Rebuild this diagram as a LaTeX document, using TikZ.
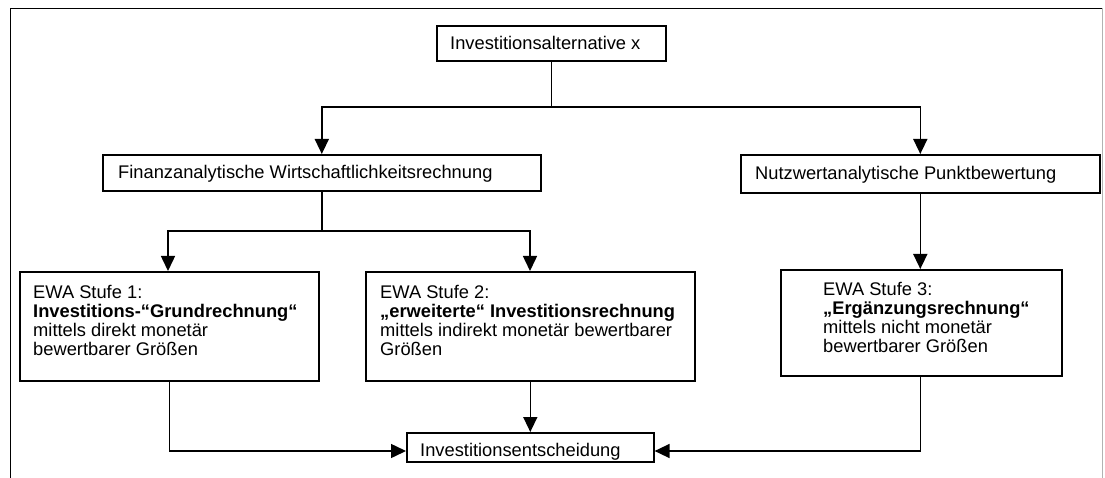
\documentclass[tikz,border=0pt]{standalone}
\usepackage{fontspec}
\setmainfont{Liberation Sans}
\usetikzlibrary{arrows.meta}
\begin{document}
\begin{tikzpicture}[x=1pt,y=-1pt,
  box/.style={draw=black, line width=1.6pt, inner sep=0pt, anchor=north west},
  txt/.style={inner sep=0pt, anchor=base west, align=left,
    font=\fontsize{18.3pt}{19pt}\selectfont},
  link/.style={line width=1.5pt},
  flow/.style={link, -{Triangle[width=14pt,length=15pt]}}]
\useasboundingbox (0,0) rectangle (1105,478);

% outer frame
\draw[line width=1.4pt] (10.5,478) -- (10.5,8.5) -- (1102,8.5);
\draw[line width=1pt, gray!60] (1102,8.5) -- (1102,478);

% boxes
\node[box, minimum width=229pt, minimum height=35pt] (alt) at (436,25) {};
\node[box, minimum width=438pt, minimum height=36pt] (fin) at (102,154) {};
\node[box, minimum width=359pt, minimum height=38pt] (nutz) at (740,154) {};
\node[box, minimum width=299pt, minimum height=109pt] (s1) at (19,271) {};
\node[box, minimum width=329pt, minimum height=109pt] (s2) at (365,271) {};
\node[box, minimum width=281pt, minimum height=106pt] (s3) at (780,269) {};
\node[box, minimum width=247pt, minimum height=29pt] (ent) at (406,432) {};

% texts (multi-line nodes are placed by the baseline of their last line)
\node[txt] (altT) at (450,49.5) {Investitionsalternative x};
\node[txt] (finT) at (118,179) {Finanzanalytische Wirtschaftlichkeitsrechnung};
\node[txt] (nutzT) at (755,180) {Nutzwertanalytische Punktbewertung};
\node[txt] (s1T) at (33,355) {EWA Stufe 1:\\\textbf{Investitions-“Grundrechnung“}\\mittels direkt monetär\\bewertbarer Größen};
\node[txt] (s2T) at (380,355) {EWA Stufe 2:\\\textbf{„erweiterte“ Investitionsrechnung}\\mittels indirekt monetär bewertbarer\\Größen};
\node[txt] (s3T) at (823,352) {EWA Stufe 3:\\\textbf{„Ergänzungsrechnung“}\\mittels nicht monetär\\bewertbarer Größen};
\node[txt] (entT) at (420,456) {Investitionsentscheidung};

% branch points
\coordinate (top) at (alt.south |- 0,107);
\coordinate (mid) at (fin.south |- 0,231);

% connectors
\draw[link] (alt.south) -- (top);
\draw[flow] (top) -| (fin.north);
\draw[flow] (top) -| (nutz.north);
\draw[link] (fin.south) -- (mid);
\draw[flow] (mid) -| (168,271);
\draw[flow] (mid) -| (530,271);
\draw[flow] (nutz.south) -- (nutz.south |- s3.north);
\draw[flow] (s1.south) |- (ent.west |- 0,451);
\draw[flow] (s2.south) -- (ent.north);
\draw[flow] (nutz.south |- s3.south) |- (ent.east |- 0,451);
\end{tikzpicture}
\end{document}
